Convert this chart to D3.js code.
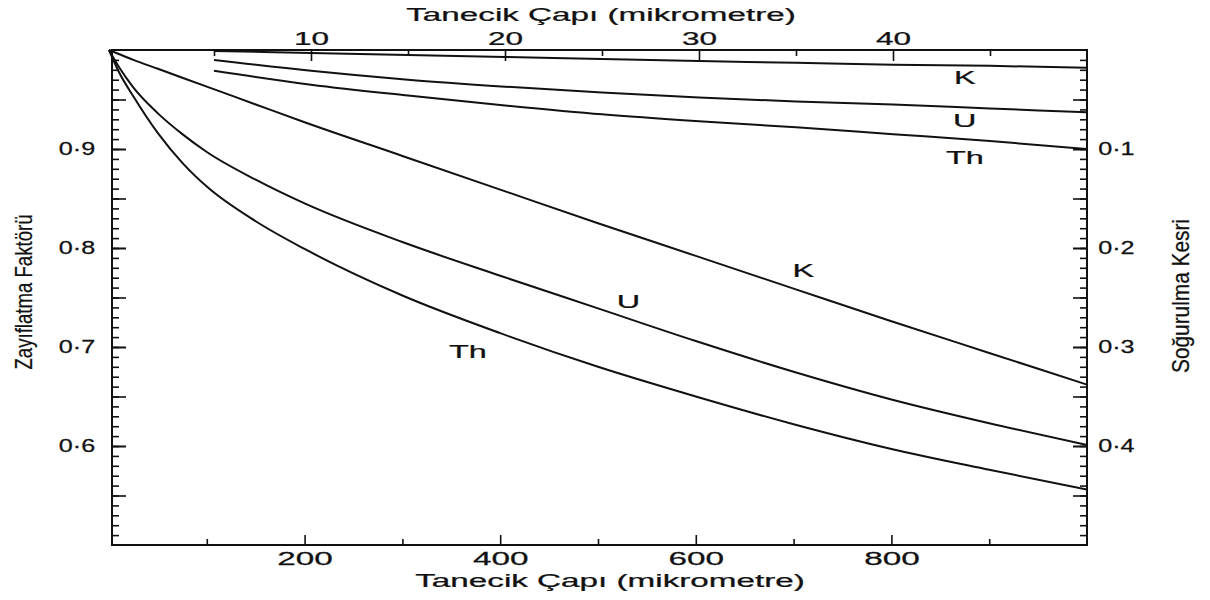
<!DOCTYPE html>
<html><head><meta charset="utf-8">
<script src="https://cdn.jsdelivr.net/npm/d3@7"></script>
<style>
body{margin:0;background:#fff}
svg text{font-family:"Liberation Sans",Arial,Helvetica,sans-serif;fill:#111;stroke:#111;stroke-width:0.25px}
</style>
</head><body>
<svg id="c" width="1210" height="600"></svg>
<script>
// ---- tick labels / axis data ----
const bottomTicks = [200, 400, 600, 800];
const bottomMinor = [100, 300, 500, 700, 900];
const topTicks = [10, 20, 30, 40];
const topMinor = [5, 15, 25, 35, 45];
const leftTicks = [0.6, 0.7, 0.8, 0.9];
const rightTicks = [0.1, 0.2, 0.3, 0.4];
const bottomTitle = "Tanecik Çapı (mikrometre)";
const topTitle = "Tanecik Çapı (mikrometre)";
const leftTitle = "Zayıflatma Faktörü";
const rightTitle = "Soğurulma Kesri";

// ---- lower curves: diameter 0–1000 µm (bottom axis) ----
const diamLarge = [0, 10, 25, 50, 75, 100, 150, 200, 300, 400, 500, 600, 700, 800, 900, 1000];
const kLarge  = [1.000, 0.996, 0.990, 0.981, 0.972, 0.963, 0.945, 0.927, 0.893, 0.859, 0.825, 0.792, 0.759, 0.726, 0.694, 0.662];
const uLarge  = [1.000, 0.983, 0.962, 0.936, 0.915, 0.897, 0.869, 0.845, 0.806, 0.772, 0.739, 0.706, 0.675, 0.647, 0.623, 0.601];
const thLarge = [1.000, 0.978, 0.953, 0.916, 0.886, 0.862, 0.827, 0.799, 0.752, 0.714, 0.680, 0.650, 0.622, 0.597, 0.576, 0.556];

// ---- upper curves: diameter 5–50 µm (top axis) ----
const diamSmall = [5, 10, 15, 20, 25, 30, 35, 40, 45, 50];
const kSmall  = [0.999, 0.997, 0.995, 0.993, 0.991, 0.989, 0.987, 0.985, 0.984, 0.982];
const uSmall  = [0.990, 0.979, 0.970, 0.963, 0.957, 0.952, 0.948, 0.945, 0.941, 0.937];
const thSmall = [0.979, 0.965, 0.954, 0.944, 0.935, 0.928, 0.922, 0.915, 0.908, 0.900];

// ---- curve labels (data coordinates) ----
const lowerLabelNames = ["K", "U", "Th"];
const lowerLabelDiam  = [710, 531, 367];
const lowerLabelVal   = [0.777, 0.746, 0.695];
const upperLabelNames = ["K", "U", "Th"];
const upperLabelDiam  = [43.7, 43.7, 43.7];
const upperLabelVal   = [0.972, 0.928, 0.891];

// ---- layout ----
const frame = {left: 112, right: 1087, top: 50, bottom: 545};
const x    = d3.scaleLinear().domain([0, 1000]).range([109, 1087]);
const xTop = d3.scaleLinear().domain([0, 50]).range([117, 1087]);
const y    = d3.scaleLinear().domain([0.5, 1.0]).range([frame.bottom, frame.top]);
const yR   = d3.scaleLinear().domain([0, 0.5]).range([frame.top, frame.bottom]);

const svg = d3.select("#c");
const fmt = d => d3.format(".1f")(d).replace(".", "·");
const stroke = "#111";

function styleAxis(g, sx) {
  g.attr("font-size", 18).attr("font-family", null);
  g.select(".domain").remove();
  g.selectAll(".tick line").attr("stroke", stroke).attr("stroke-width", 1.6);
  g.selectAll(".tick text").attr("fill", "#111").attr("transform", `scale(${sx},1)`);
}

// bottom axis
svg.append("g").attr("transform", `translate(0,${frame.bottom})`)
  .call(d3.axisBottom(x).tickValues(bottomTicks).tickSize(-10).tickPadding(7).tickFormat(d3.format("d")))
  .call(g => styleAxis(g, 1.85));
svg.append("g").attr("transform", `translate(0,${frame.bottom})`)
  .call(d3.axisBottom(x).tickValues(bottomMinor).tickSize(-6).tickFormat(""))
  .call(g => styleAxis(g, 1));

// top axis
svg.append("g").attr("transform", `translate(0,${frame.top})`)
  .call(d3.axisTop(xTop).tickValues(topTicks).tickSize(-11).tickPadding(5).tickFormat(d3.format("d")))
  .call(g => styleAxis(g, 1.75));
svg.append("g").attr("transform", `translate(0,${frame.top})`)
  .call(d3.axisTop(xTop).tickValues(topMinor).tickSize(-6).tickFormat(""))
  .call(g => styleAxis(g, 1));

// left axis
const yMinor = y.ticks(50).filter(v => v > 0.5 && v < 1.0);
const yMid = y.ticks(10).filter(v => v > 0.5 && v < 1.0);
svg.append("g").attr("transform", `translate(${frame.left},0)`)
  .call(d3.axisLeft(y).tickValues(yMinor).tickSize(-7).tickFormat(""))
  .call(g => styleAxis(g, 1));
svg.append("g").attr("transform", `translate(${frame.left},0)`)
  .call(d3.axisLeft(y).tickValues(yMid).tickSize(-14).tickFormat(""))
  .call(g => styleAxis(g, 1));
svg.append("g").attr("transform", `translate(${frame.left},0)`)
  .call(d3.axisLeft(y).tickValues(leftTicks).tickSize(-14).tickPadding(12).tickFormat(fmt))
  .call(g => styleAxis(g, 1.4));

// right axis
const yRMinor = yR.ticks(50).filter(v => v > 0 && v < 0.5);
const yRMid = yR.ticks(10).filter(v => v > 0 && v < 0.5);
svg.append("g").attr("transform", `translate(${frame.right},0)`)
  .call(d3.axisRight(yR).tickValues(yRMinor).tickSize(-7).tickFormat(""))
  .call(g => styleAxis(g, 1));
svg.append("g").attr("transform", `translate(${frame.right},0)`)
  .call(d3.axisRight(yR).tickValues(yRMid).tickSize(-14).tickFormat(""))
  .call(g => styleAxis(g, 1));
svg.append("g").attr("transform", `translate(${frame.right},0)`)
  .call(d3.axisRight(yR).tickValues(rightTicks).tickSize(-14).tickPadding(8).tickFormat(fmt))
  .call(g => styleAxis(g, 1.4));

// frame
svg.append("rect")
  .attr("x", frame.left).attr("y", frame.top)
  .attr("width", frame.right - frame.left).attr("height", frame.bottom - frame.top)
  .attr("fill", "none").attr("stroke", stroke).attr("stroke-width", 2);

// curves
const lineLarge = d3.line().x(d => x(d[0])).y(d => y(d[1])).curve(d3.curveMonotoneX);
const lineSmall = d3.line().x(d => xTop(d[0])).y(d => y(d[1])).curve(d3.curveMonotoneX);
[kLarge, uLarge, thLarge].forEach(vals => {
  svg.append("path").datum(diamLarge.map((d, i) => [d, vals[i]]))
    .attr("d", lineLarge).attr("fill", "none").attr("stroke", stroke).attr("stroke-width", 2);
});
[kSmall, uSmall, thSmall].forEach(vals => {
  svg.append("path").datum(diamSmall.map((d, i) => [d, vals[i]]))
    .attr("d", lineSmall).attr("fill", "none").attr("stroke", stroke).attr("stroke-width", 2);
});

// curve labels
lowerLabelNames.forEach((n, i) => {
  svg.append("text")
    .attr("transform", `translate(${x(lowerLabelDiam[i])},${y(lowerLabelVal[i])}) scale(1.8,1)`)
    .attr("text-anchor", "middle").attr("dominant-baseline", "central")
    .attr("font-size", 18).text(n);
});
upperLabelNames.forEach((n, i) => {
  svg.append("text")
    .attr("transform", `translate(${xTop(upperLabelDiam[i])},${y(upperLabelVal[i])}) scale(1.8,1)`)
    .attr("text-anchor", "middle").attr("dominant-baseline", "central")
    .attr("font-size", 18).text(n);
});

// titles
svg.append("text")
  .attr("transform", `translate(601,21) scale(1.9,1)`)
  .attr("text-anchor", "middle").attr("font-size", 17.5).text(topTitle);
svg.append("text")
  .attr("transform", `translate(610,587) scale(1.9,1)`)
  .attr("text-anchor", "middle").attr("font-size", 17.5).text(bottomTitle);
svg.append("text")
  .attr("transform", `translate(23,292) rotate(-90)`)
  .attr("text-anchor", "middle").attr("dominant-baseline", "central")
  .attr("font-size", 24).attr("textLength", 155).attr("lengthAdjust", "spacingAndGlyphs")
  .text(leftTitle);
svg.append("text")
  .attr("transform", `translate(1180,296) rotate(-90)`)
  .attr("text-anchor", "middle").attr("dominant-baseline", "central")
  .attr("font-size", 24).attr("textLength", 154).attr("lengthAdjust", "spacingAndGlyphs")
  .text(rightTitle);
</script>
</body></html>
